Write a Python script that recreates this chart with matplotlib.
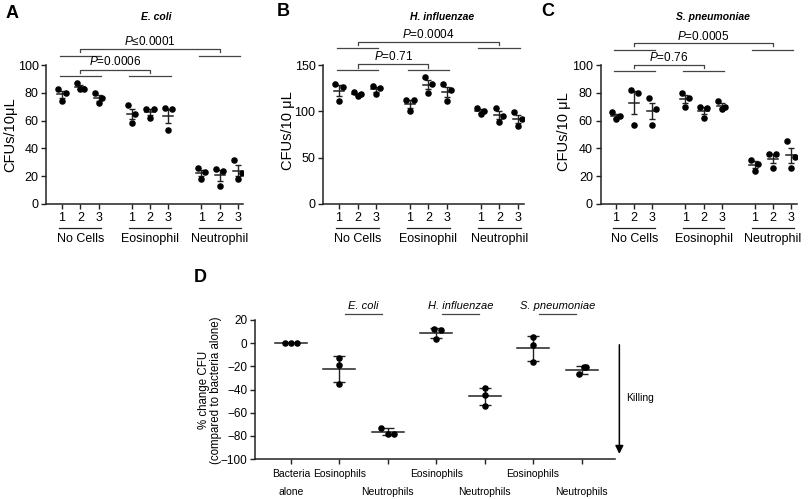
import numpy as np
import matplotlib
matplotlib.use('Agg')
import matplotlib.pyplot as plt

plt.rcParams['font.family'] = ['Liberation Sans', 'DejaVu Sans']
plt.rcParams['mathtext.fontset'] = 'custom'
plt.rcParams['mathtext.it'] = 'Liberation Sans:italic'
plt.rcParams['mathtext.rm'] = 'Liberation Sans'

# ---- data ----
groups = ['No Cells', 'Eosinophil', 'Neutrophil']
donors = ['1', '2', '3']

# CFUs/10 uL, three replicates per donor, order: No Cells 1-3, Eosinophil 1-3, Neutrophil 1-3
ecoli = [[83, 80, 74], [87, 83, 83], [80, 76, 73],
         [71, 65, 58], [68, 68, 62], [69, 68, 53],
         [26, 23, 18], [25, 24, 13], [32, 22, 18]]
hinf = [[130, 126, 111], [121, 119, 117], [127, 125, 119],
        [112, 112, 100], [137, 129, 120], [129, 123, 111],
        [104, 100, 97], [104, 95, 89], [99, 92, 84]]
spn = [[66, 63, 61], [82, 80, 57], [76, 68, 57],
       [80, 76, 70], [70, 69, 62], [74, 70, 68],
       [32, 29, 24], [36, 36, 26], [45, 34, 26]]

p_values = {
    'ecoli': ('$P$≤0.0001', '$P$=0.0006'),
    'hinf': ('$P$=0.0004', '$P$=0.71'),
    'spn': ('$P$=0.0005', '$P$=0.76'),
}

# % change CFU compared to bacteria alone
d_top = ['Bacteria', 'Eosinophils', '', 'Eosinophils', '', 'Eosinophils', '']
d_bottom = ['alone', '', 'Neutrophils', '', 'Neutrophils', '', 'Neutrophils']
d_species = ['E. coli', 'H. influenzae', 'S. pneumoniae']
d_values = [[0, 0, 0],
            [-13, -19, -35], [-73, -78, -78],
            [12, 11, 4], [-39, -45, -54],
            [5, -2, -16], [-21, -21, -27]]

# ---- layout ----
W, H = 810, 499
fig = plt.figure(figsize=(W / 100, H / 100), dpi=100)
ink = '#222222'


def add_ax(left, top, right, bottom):
    return fig.add_axes([left / W, 1 - bottom / H, (right - left) / W, (bottom - top) / H])


def style_spines(ax):
    for s in ['top', 'right']:
        ax.spines[s].set_visible(False)
    for s in ['left', 'bottom']:
        ax.spines[s].set_linewidth(1.1)
        ax.spines[s].set_color(ink)
    ax.tick_params(width=1.0, length=3.5, color=ink, pad=2)


pos = [1, 2, 3, 4.8, 5.8, 6.8, 8.6, 9.6, 10.6]
jit = [-0.2, 0.2, 0.0]


def cfu_panel(ax, values, ymax, yticks, pvals, ylev):
    for x, reps in zip(pos, values):
        reps = sorted(reps, reverse=True)
        m = np.mean(reps)
        sem = np.std(reps, ddof=1) / np.sqrt(len(reps))
        ax.plot([x + j for j in jit], reps, 'o', color='black', ms=3.7, zorder=3)
        ax.plot([x - 0.28, x + 0.28], [m, m], color=ink, lw=1.1)
        ax.errorbar(x, m, yerr=sem, color=ink, lw=1.0, capsize=2.2, capthick=1.0)
    ax.set_xlim(0.15, 10.9)
    ax.set_ylim(0, ymax)
    ax.set_yticks(yticks)
    ax.set_xticks(pos)
    ax.set_xticklabels(donors * 3)
    ax.tick_params(labelsize=9)
    style_spines(ax)

    tr = ax.get_xaxis_transform()
    for g, name in enumerate(groups):
        a, b = pos[3 * g], pos[3 * g + 2]
        ax.plot([a - 0.15, b + 0.15], [-0.172, -0.172], transform=tr, clip_on=False, color=ink, lw=0.9)
        ax.text(pos[3 * g + 1], -0.255, name, transform=tr, ha='center', va='center', fontsize=9)

    # significance brackets: (group line y, bracket y, text y) in axes fraction
    (top_line, top_br, top_txt), (low_line, low_br, low_txt) = ylev
    d = 0.025
    for (ga, gb, yl, yb, yt, txt) in [(0, 2, top_line, top_br, top_txt, pvals[0]),
                                      (0, 1, low_line, low_br, low_txt, pvals[1])]:
        for g in (ga, gb):
            ax.plot([pos[3 * g] - 0.12, pos[3 * g + 2] + 0.12], [yl, yl], transform=tr,
                    clip_on=False, color='#444444', lw=0.9)
        x1, x2 = pos[3 * ga + 1], pos[3 * gb + 1]
        ax.plot([x1, x1, x2, x2], [yb - d, yb, yb, yb - d], transform=tr,
                clip_on=False, color='#444444', lw=0.9)
        ax.text((x1 + x2) / 2, yt, txt, transform=tr, ha='center', va='center', fontsize=8.5)


axA = add_ax(46.4, 65, 243.5, 204)
axB = add_ax(323.1, 65, 523.6, 204)
axC = add_ax(600.5, 65, 796.5, 204)

cfu_panel(axA, ecoli, 100, [0, 20, 40, 60, 80, 100], p_values['ecoli'],
          ((1.065, 1.116, 1.167), (0.920, 0.964, 1.022)))
cfu_panel(axB, hinf, 150, [0, 50, 100, 150], p_values['hinf'],
          ((1.123, 1.167, 1.217), (0.964, 1.007, 1.058)))
cfu_panel(axC, spn, 100, [0, 20, 40, 60, 80, 100], p_values['spn'],
          ((1.109, 1.159, 1.203), (0.957, 1.000, 1.051)))

for (x, y, s) in [(10, 135, 'CFUs/10μL'), (288, 131, 'CFUs/10 μL'), (564, 132, 'CFUs/10 μL')]:
    fig.text(x / W, 1 - y / H, s, rotation=90, ha='center', va='center', fontsize=10.5)
for (x, y, s) in [(156, 17, 'E. coli'), (442, 17, 'H. influenzae'), (713, 17, 'S. pneumoniae')]:
    fig.text(x / W, 1 - y / H, s, ha='center', va='center', fontsize=7.5, fontweight='bold', style='italic')
for (x, y, s) in [(12, 13, 'A'), (283, 12, 'B'), (548, 12, 'C'), (200, 278, 'D')]:
    fig.text(x / W, 1 - y / H, s, ha='center', va='center', fontsize=13, fontweight='bold')

# ---- panel D ----
axD = add_ax(255, 320, 615, 459)
d_pos = np.arange(1, len(d_values) + 1)
d_jit = [[-0.13, 0.0, 0.13], [0, 0, 0], [-0.13, 0.0, 0.13], [-0.05, 0.1, 0.0],
         [0, 0, 0], [0, 0, 0], [0.05, 0.1, -0.05]]
for x, reps, jj in zip(d_pos, d_values, d_jit):
    m = np.mean(reps)
    sd = np.std(reps, ddof=1)
    axD.plot([x + j for j in jj], reps, 'o', color='black', ms=3.7, zorder=3)
    axD.plot([x - 0.33, x + 0.33], [m, m], color=ink, lw=1.1)
    if sd > 0:
        axD.errorbar(x, m, yerr=sd, color=ink, lw=1.0, capsize=4.2, capthick=1.0)
axD.set_xlim(0.26, 7.69)
axD.set_ylim(-100, 20)
axD.set_yticks(range(-100, 21, 20))
axD.set_xticks(d_pos)
axD.set_xticklabels([])
axD.tick_params(labelsize=8.5)
style_spines(axD)

trD = axD.get_xaxis_transform()
for x, t, b in zip(d_pos, d_top, d_bottom):
    if t:
        axD.text(x, -0.105, t, transform=trD, ha='center', va='center', fontsize=7.5)
    if b:
        axD.text(x, -0.235, b, transform=trD, ha='center', va='center', fontsize=7.5)
for k, sp in enumerate(d_species):
    xc = (d_pos[1 + 2 * k] + d_pos[2 + 2 * k]) / 2
    axD.plot([xc - 0.38, xc + 0.38], [1.043, 1.043], transform=trD, clip_on=False, color='#444444', lw=0.9)
    axD.text(xc, 1.1, sp, transform=trD, ha='center', va='center', fontsize=8, style='italic')

axD.annotate('', xy=(7.78, -98), xytext=(7.78, 1), annotation_clip=False,
             arrowprops=dict(arrowstyle='-|>', color='black', lw=1.1, mutation_scale=12))
axD.text(7.92, -47, 'Killing', ha='left', va='center', fontsize=7.5, clip_on=False)

fig.text(210 / W, 1 - 390 / H, '% change CFU\n(compared to bacteria alone)', rotation=90,
         ha='center', va='center', fontsize=8.3, linespacing=1.0)

fig.savefig('out.png', dpi=100)
